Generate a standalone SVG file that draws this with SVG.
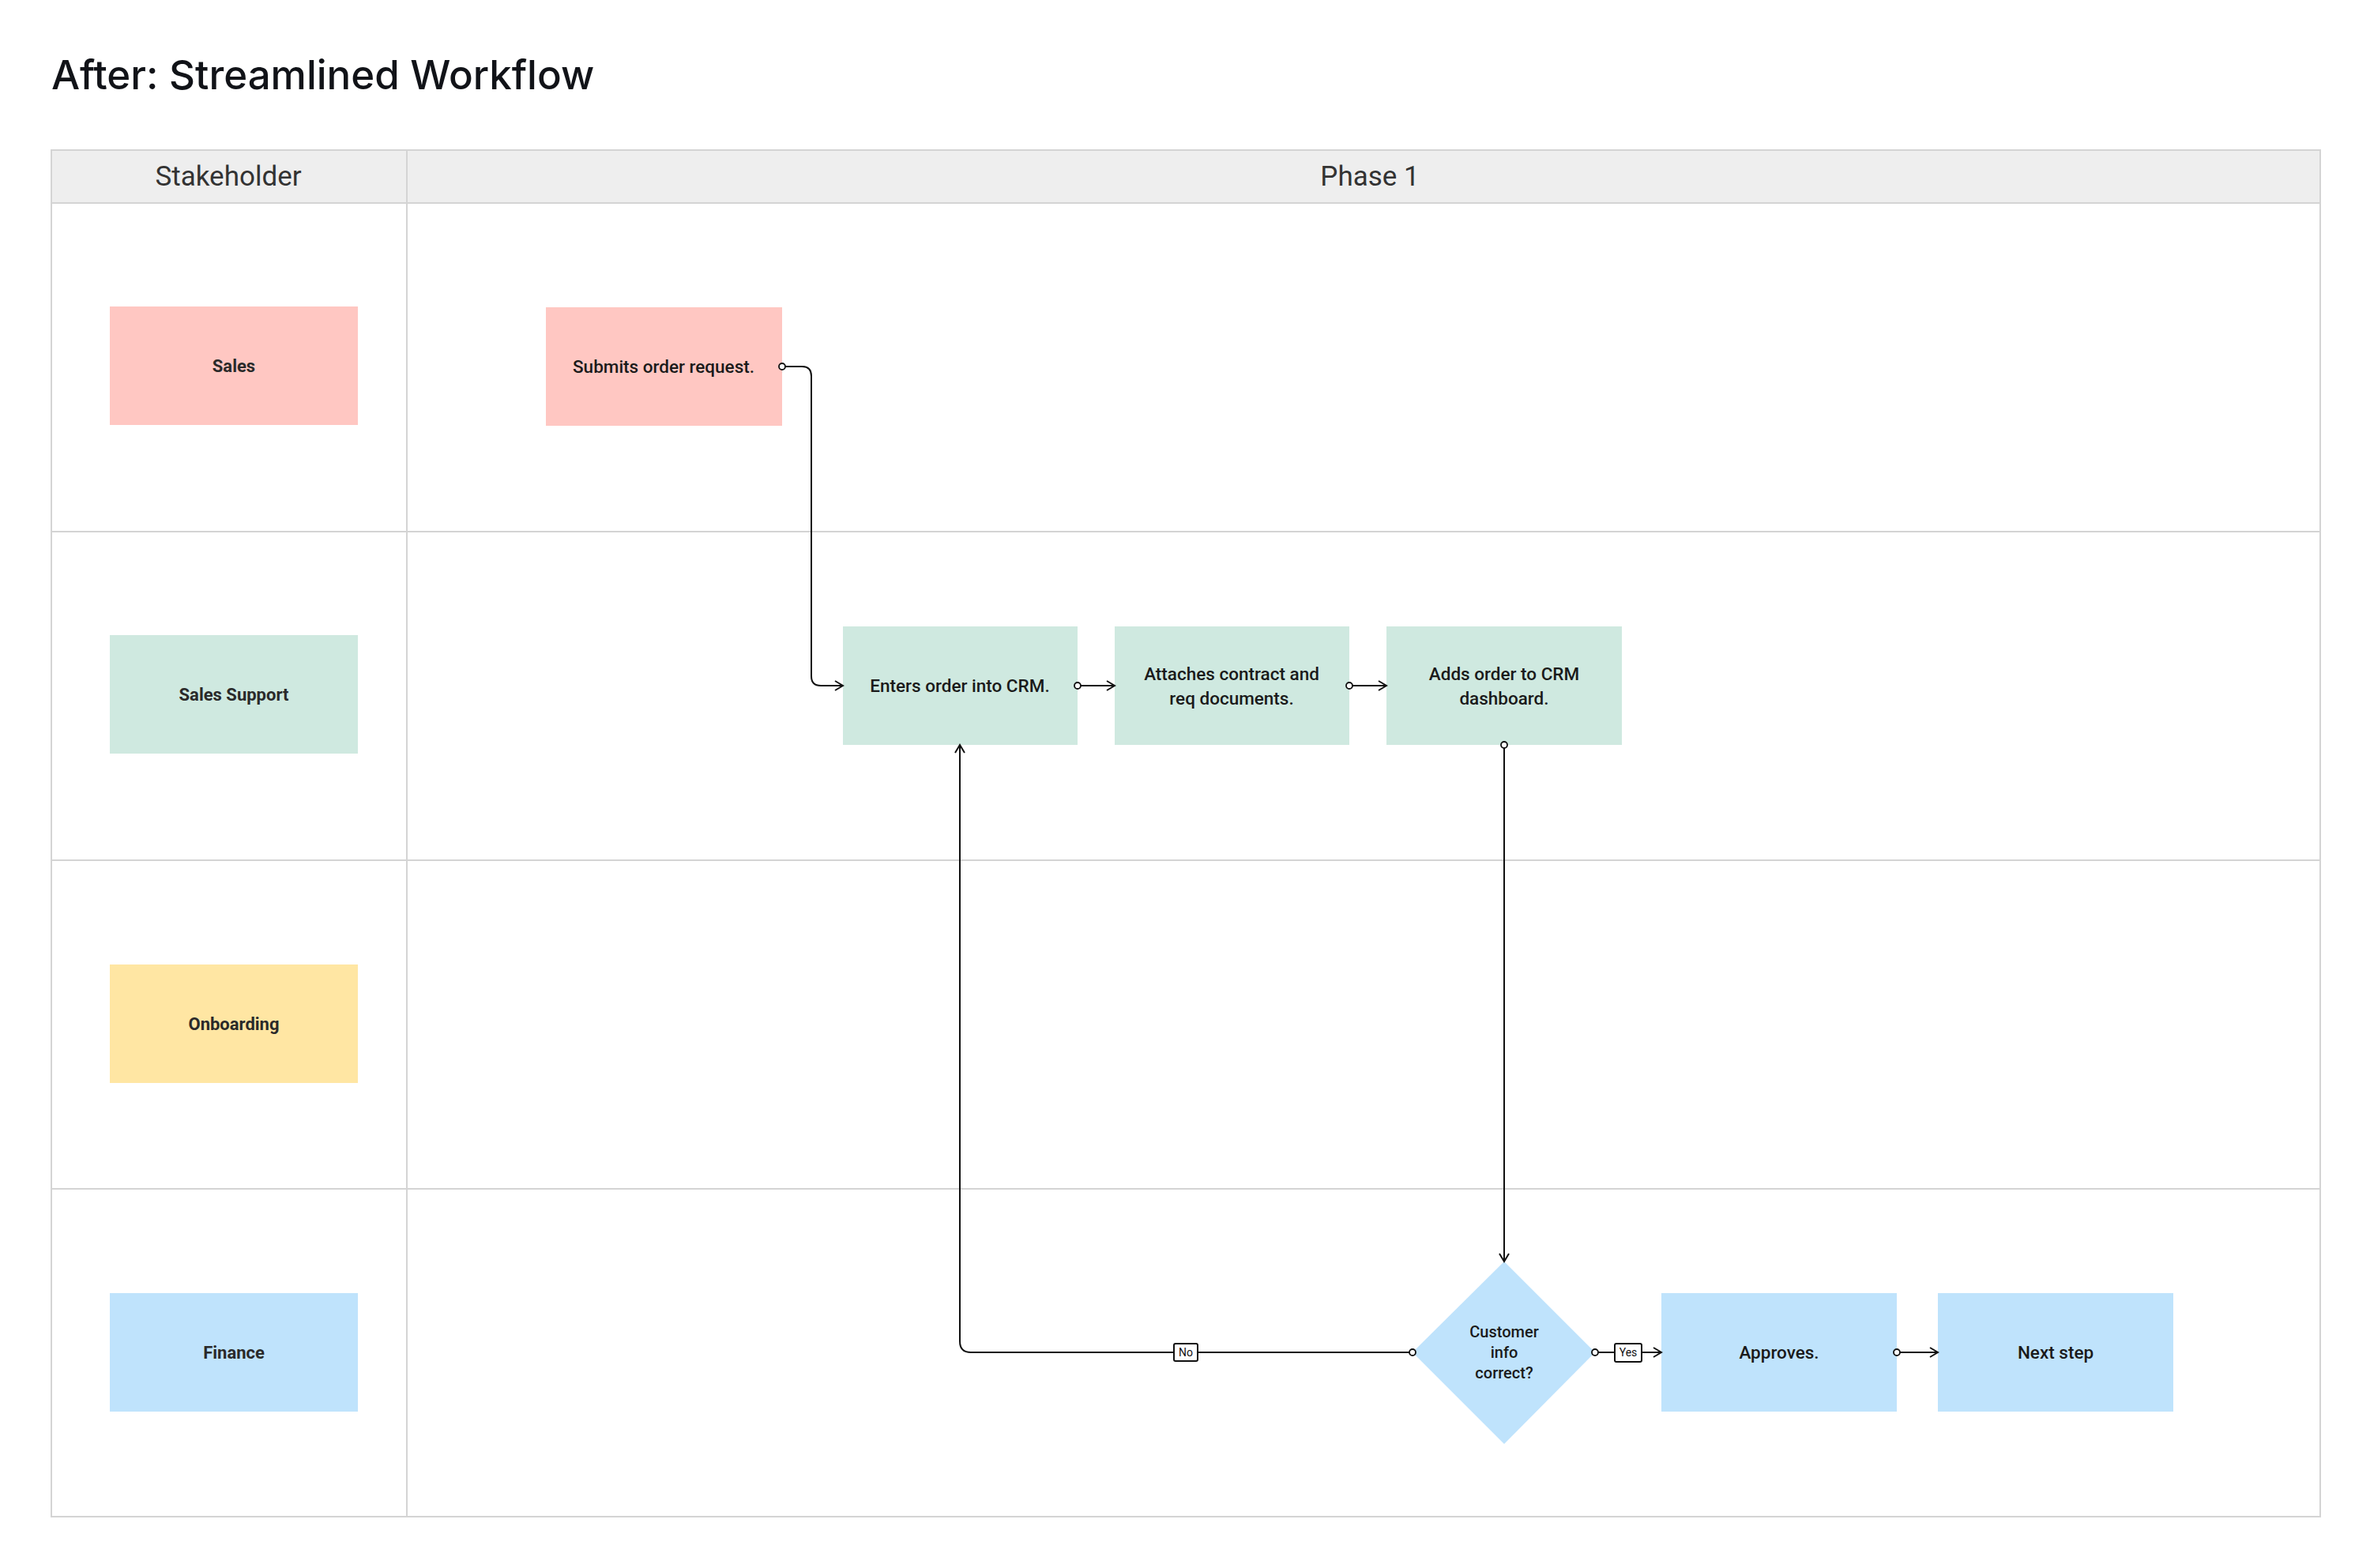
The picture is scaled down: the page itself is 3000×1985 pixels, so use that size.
<svg xmlns="http://www.w3.org/2000/svg" width="3000" height="1985" viewBox="0 0 3000 1985">
<style>
.title{font-family:Inter,"Noto Sans","Liberation Sans",sans-serif;font-weight:500;font-size:51px;fill:#111318}
.hdr{font-family:Roboto,"Liberation Sans",sans-serif;font-size:35px;fill:#333;text-anchor:middle}
.stk{font-family:Roboto,"Liberation Sans",sans-serif;font-weight:700;font-size:22px;fill:#2a2a2a;text-anchor:middle;dominant-baseline:central}
.nt{font-family:Roboto,"Liberation Sans",sans-serif;font-weight:500;font-size:22.5px;fill:#1a1a1a;text-anchor:middle;dominant-baseline:central}
.grid{stroke:#d4d4d4;stroke-width:2;fill:none}
.conn{stroke:#111;stroke-width:2;fill:none}
.lbl{fill:#fff;stroke:#111;stroke-width:2}
.lt{font-family:Roboto,"Liberation Sans",sans-serif;font-size:14px;fill:#111;text-anchor:middle;dominant-baseline:central}
.red{fill:#ffc7c2}.grn{fill:#cfe9e0}.yel{fill:#ffe6a3}.blu{fill:#bfe3fc}
</style>
<defs>
<marker id="arr" markerUnits="userSpaceOnUse" markerWidth="14" markerHeight="16" refX="11" refY="7" orient="auto" overflow="visible">
<path d="M1,1 L11,7 L1,13" fill="none" stroke="#111" stroke-width="2"/>
</marker>
<marker id="dot" markerUnits="userSpaceOnUse" markerWidth="12" markerHeight="12" refX="6" refY="6" orient="auto" overflow="visible">
<circle cx="6" cy="6" r="4" fill="#fff" stroke="#111" stroke-width="1.8"/>
</marker>
</defs>
<rect width="3000" height="1985" fill="#fff"/>
<text class="title" x="65" y="113">After: Streamlined Workflow</text>
<g id="table">
<rect x="65" y="190" width="2872" height="67" fill="#eeeeee"/>
<rect class="grid" x="65" y="190" width="2872" height="1730"/>
<line class="grid" x1="65" y1="257" x2="2937" y2="257"/>
<line class="grid" x1="65" y1="673" x2="2937" y2="673"/>
<line class="grid" x1="65" y1="1089" x2="2937" y2="1089"/>
<line class="grid" x1="65" y1="1505" x2="2937" y2="1505"/>
<line class="grid" x1="515" y1="190" x2="515" y2="1920"/>
<text class="hdr" x="289" y="235">Stakeholder</text>
<text class="hdr" x="1734" y="235">Phase 1</text>
</g>
<g id="stk-sales"><rect class="red" x="139" y="388" width="314" height="150"/><text class="stk" x="296" y="463">Sales</text></g>
<g id="stk-support"><rect class="grn" x="139" y="804" width="314" height="150"/><text class="stk" x="296" y="879">Sales Support</text></g>
<g id="stk-onboarding"><rect class="yel" x="139" y="1221" width="314" height="150"/><text class="stk" x="296" y="1296">Onboarding</text></g>
<g id="stk-finance"><rect class="blu" x="139" y="1637" width="314" height="150"/><text class="stk" x="296" y="1712">Finance</text></g>
<g id="n-submit"><rect class="red" x="691" y="389" width="299" height="150"/><text class="nt" x="840" y="464">Submits order request.</text></g>
<g id="n-enter"><rect class="grn" x="1067" y="793" width="297" height="150"/><text class="nt" x="1215" y="868">Enters order into CRM.</text></g>
<g id="n-attach"><rect class="grn" x="1411" y="793" width="297" height="150"/><text class="nt" x="1559" y="853">Attaches contract and</text><text class="nt" x="1559" y="884">req documents.</text></g>
<g id="n-adds"><rect class="grn" x="1755" y="793" width="298" height="150"/><text class="nt" x="1904" y="853">Adds order to CRM</text><text class="nt" x="1904" y="884">dashboard.</text></g>
<g id="n-decision"><polygon class="blu" points="1904,1597 2019,1712 1904,1828 1788,1712"/><text class="nt" x="1904" y="1686" style="font-size:20px">Customer</text><text class="nt" x="1904" y="1712" style="font-size:20px">info</text><text class="nt" x="1904" y="1738" style="font-size:20px">correct?</text></g>
<g id="n-approves"><rect class="blu" x="2103" y="1637" width="298" height="150"/><text class="nt" x="2252" y="1712">Approves.</text></g>
<g id="n-next"><rect class="blu" x="2453" y="1637" width="298" height="150"/><text class="nt" x="2602" y="1712">Next step</text></g>
<g id="connectors">
<path class="conn" d="M990,464 H1015 Q1027,464 1027,476 V856 Q1027,868 1039,868 H1067" marker-start="url(#dot)" marker-end="url(#arr)"/>
<path class="conn" d="M1364,868 H1411" marker-start="url(#dot)" marker-end="url(#arr)"/>
<path class="conn" d="M1708,868 H1755" marker-start="url(#dot)" marker-end="url(#arr)"/>
<path class="conn" d="M1904,943 V1597" marker-start="url(#dot)" marker-end="url(#arr)"/>
<path class="conn" d="M1788,1712 H1229 Q1215,1712 1215,1698 V943" marker-start="url(#dot)" marker-end="url(#arr)"/>
<path class="conn" d="M2019,1712 H2103" marker-start="url(#dot)" marker-end="url(#arr)"/>
<path class="conn" d="M2401,1712 H2453" marker-start="url(#dot)" marker-end="url(#arr)"/>
<g id="lbl-no"><rect class="lbl" x="1486" y="1701" width="30" height="22" rx="2"/><text class="lt" x="1501" y="1712">No</text></g>
<g id="lbl-yes"><rect class="lbl" x="2044" y="1701" width="34" height="23" rx="2"/><text class="lt" x="2061" y="1712">Yes</text></g>
</g>
</svg>
